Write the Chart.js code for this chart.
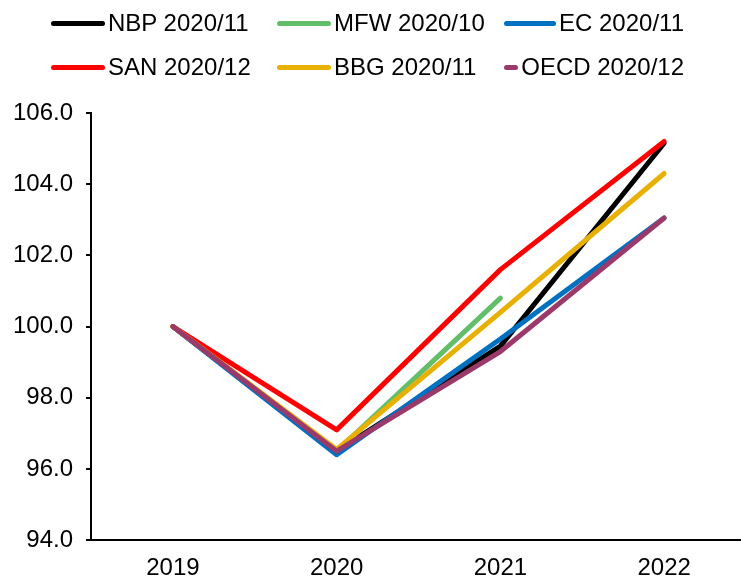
<!DOCTYPE html>
<html>
<head>
<meta charset="utf-8">
<script src="https://cdn.jsdelivr.net/npm/chart.js@4"></script>
<style>
  html, body { margin: 0; padding: 0; background: #fff; overflow: hidden; }
  #wrap { position: relative; width: 760px; height: 581px; }
  #legend {
    position: absolute; left: 51px; top: 1px;
    display: grid; grid-template-columns: 226px 227px 180px; grid-auto-rows: 44px;
    font-family: "Liberation Sans", Arial, sans-serif; font-size: 24px; color: #000;
  }
  .item { display: flex; align-items: center; white-space: nowrap; }
  .swatch { width: 54px; height: 5px; border-radius: 3px; margin-right: 3px; }
</style>
</head>
<body>
<div id="wrap">
  <canvas id="gdpChart" width="760" height="581"></canvas>
  <div id="legend"></div>
</div>
<script>
// Real GDP index, 2019 = 100
const years = ['2019', '2020', '2021', '2022'];
const seriesNames = ['NBP 2020/11', 'MFW 2020/10', 'EC 2020/11', 'SAN 2020/12', 'BBG 2020/11', 'OECD 2020/12'];
const nbp  = [100, 96.5, 99.45, 105.15];
const mfw  = [100, 96.5, 100.8, null];
const ec   = [100, 96.4, 99.65, 103.05];
const san  = [100, 97.1, 101.6, 105.2];
const bbg  = [100, 96.55, 100.4, 104.3];
const oecd = [100, 96.5, 99.3, 103.05];
const seriesColors = ['#000000', '#63be6a', '#0070c0', '#ff0000', '#e8b000', '#9b3a6a'];

const allSeries = [nbp, mfw, ec, san, bbg, oecd];

const datasets = allSeries.map((values, i) => ({
    label: seriesNames[i],
    data: values,
    borderColor: seriesColors[i],
    backgroundColor: seriesColors[i],
    borderWidth: 5,
    borderCapStyle: 'round',
    borderJoinStyle: 'round',
    pointRadius: 0,
    tension: 0,
    spanGaps: false,
    order: allSeries.length - i   // later series drawn on top
}));

const chart = new Chart(document.getElementById('gdpChart'), {
    type: 'line',
    data: { labels: years, datasets: datasets },
    options: {
        responsive: false,
        animation: false,
        layout: { padding: { top: 113, left: 0, right: 14, bottom: -16 } },
        plugins: {
            legend: { display: false },
            tooltip: { enabled: false }
        },
        scales: {
            x: {
                offset: true,
                grid: { display: false, drawTicks: false },
                border: { color: '#000', width: 2 },
                ticks: {
                    color: '#000',
                    padding: 14,
                    maxRotation: 0,
                    font: { family: 'Liberation Sans', size: 24 }
                }
            },
            y: {
                min: 94,
                max: 106,
                border: { color: '#000', width: 2 },
                grid: {
                    drawOnChartArea: false,
                    drawTicks: true,
                    tickLength: 5,
                    color: '#000',
                    lineWidth: 2
                },
                ticks: {
                    stepSize: 2,
                    color: '#000',
                    padding: 13,
                    font: { family: 'Liberation Sans', size: 24 },
                    callback: v => v.toFixed(1)
                }
            }
        }
    }
});

// Legend built from the chart's datasets
const legendEl = document.getElementById('legend');
chart.data.datasets.forEach(ds => {
    const item = document.createElement('div');
    item.className = 'item';
    const sw = document.createElement('span');
    sw.className = 'swatch';
    sw.style.background = ds.borderColor;
    const txt = document.createElement('span');
    txt.textContent = ds.label;
    item.appendChild(sw);
    item.appendChild(txt);
    legendEl.appendChild(item);
});
</script>
</body>
</html>
